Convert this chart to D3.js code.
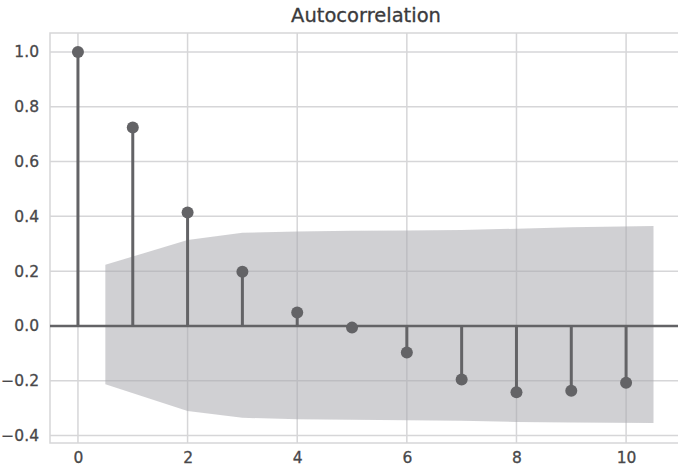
<!DOCTYPE html>
<html>
<head>
<meta charset="utf-8">
<script src="https://cdn.jsdelivr.net/npm/d3@7"></script>
<style>
    body { margin: 0; background: #fff; }
    text { font-family: "DejaVu Sans", "Liberation Sans", sans-serif; }
</style>
</head>
<body>
<div id="chart"></div>
<script>
// acf values per lag
const lags = [0, 1, 2, 3, 4, 5, 6, 7, 8, 9, 10];
const acf = [1.0, 0.724, 0.414, 0.198, 0.049, -0.006, -0.097, -0.195, -0.242, -0.236, -0.207];

// confidence band
const bandLags = [0.5, 2, 3, 4, 5, 6, 7, 8, 9, 10.5];
const bandUpper = [0.223, 0.314, 0.34, 0.345, 0.347, 0.348, 0.35, 0.355, 0.36, 0.365];
const bandLower = [-0.213, -0.31, -0.335, -0.34, -0.342, -0.344, -0.346, -0.35, -0.352, -0.354];

const xTicks = [0, 2, 4, 6, 8, 10];
const yTicks = [-0.4, -0.2, 0.0, 0.2, 0.4, 0.6, 0.8, 1.0];

const width = 678;
const height = 469;
const margin = { top: 33, right: -4, bottom: 26, left: 50 };

const stemColor = "#636366";
const gridColor = "#d6d6d8";

const svg = d3.select("#chart")
    .append("svg")
        .attr("width", width)
        .attr("height", height);

const x = d3.scaleLinear()
    .domain([-0.51, 11.02])
    .range([margin.left, width - margin.right]);

const y = d3.scaleLinear()
    .domain([-0.427, 1.069])
    .range([height - margin.bottom, margin.top]);

// grid
svg.append("g")
    .selectAll("line")
    .data(yTicks)
    .enter()
    .append("line")
        .attr("x1", x.range()[0])
        .attr("x2", x.range()[1])
        .attr("y1", d => y(d))
        .attr("y2", d => y(d))
        .attr("stroke", gridColor)
        .attr("stroke-width", 1.5);

svg.append("g")
    .selectAll("line")
    .data(xTicks)
    .enter()
    .append("line")
        .attr("x1", d => x(d))
        .attr("x2", d => x(d))
        .attr("y1", y.range()[0])
        .attr("y2", y.range()[1])
        .attr("stroke", gridColor)
        .attr("stroke-width", 1.5);

// band
const band = d3.area()
    .x((d, i) => x(bandLags[i]))
    .y0((d, i) => y(bandLower[i]))
    .y1((d, i) => y(bandUpper[i]));

svg.append("path")
    .datum(bandLags)
    .attr("d", band)
    .attr("fill", "#a9aaae")
    .attr("fill-opacity", 0.55);

// frame
svg.append("rect")
    .attr("x", x.range()[0])
    .attr("y", y.range()[1])
    .attr("width", x.range()[1] - x.range()[0])
    .attr("height", y.range()[0] - y.range()[1])
    .attr("fill", "none")
    .attr("stroke", gridColor)
    .attr("stroke-width", 1.5);

// zero line
svg.append("line")
    .attr("x1", x.range()[0])
    .attr("x2", x.range()[1])
    .attr("y1", y(0))
    .attr("y2", y(0))
    .attr("stroke", stemColor)
    .attr("stroke-width", 2.5);

// stems + markers
const stems = svg.append("g")
    .selectAll("g")
    .data(lags)
    .enter()
    .append("g");

stems.append("line")
    .attr("x1", d => x(d))
    .attr("x2", d => x(d))
    .attr("y1", y(0))
    .attr("y2", (d, i) => y(acf[i]))
    .attr("stroke", stemColor)
    .attr("stroke-width", 3);

stems.append("circle")
    .attr("cx", d => x(d))
    .attr("cy", (d, i) => y(acf[i]))
    .attr("r", 6)
    .attr("fill", stemColor);

// axes
svg.append("g")
    .attr("transform", `translate(${margin.left},0)`)
    .call(d3.axisLeft(y).tickValues(yTicks).tickFormat(d3.format(".1f")).tickSize(0).tickPadding(11));

svg.append("g")
    .attr("transform", `translate(0,${height - margin.bottom})`)
    .call(d3.axisBottom(x).tickValues(xTicks).tickSize(0).tickPadding(9));

svg.selectAll(".domain").remove();
svg.selectAll(".tick text")
    .attr("fill", "#48484a")
    .attr("stroke", "#48484a")
    .attr("stroke-width", 0.3)
    .style("font-size", "15.5px");

// title
svg.append("text")
    .attr("x", (x.range()[0] + x.range()[1]) / 2)
    .attr("y", 22)
    .attr("text-anchor", "middle")
    .attr("fill", "#3a3a3c")
    .attr("stroke", "#3a3a3c")
    .attr("stroke-width", 0.3)
    .style("font-size", "19.5px")
    .text("Autocorrelation");
</script>
</body>
</html>
